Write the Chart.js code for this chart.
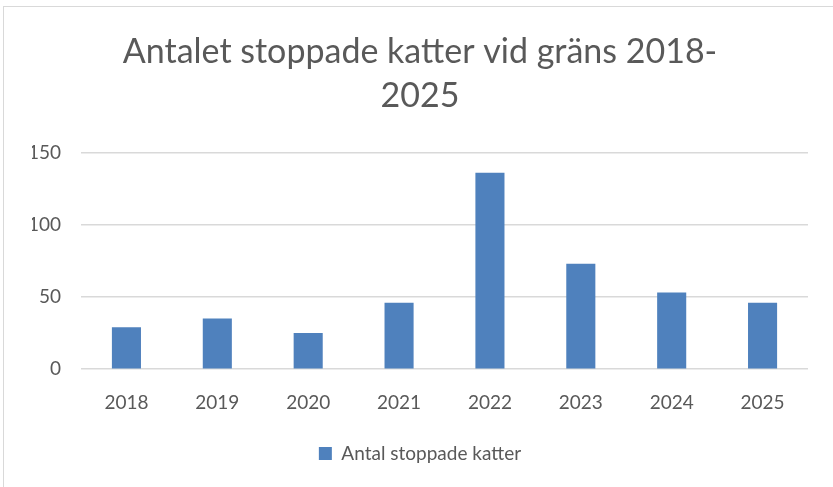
<!DOCTYPE html>
<html>
<head>
<meta charset="utf-8">
<script src="https://cdn.jsdelivr.net/npm/chart.js@4/dist/chart.umd.min.js"></script>
<style>
  html, body { margin: 0; padding: 0; background: #fff; }
  #wrap { position: relative; width: 833px; height: 487px; overflow: hidden; }
  #frame { position: absolute; left: 3px; top: 6px; width: 900px; height: 600px; border-left: 1px solid #d9d9d9; border-top: 1px solid #d9d9d9; }
  canvas { position: absolute; left: 0; top: 0; }
</style>
</head>
<body>
<div id="wrap">
  <div id="frame"></div>
  <canvas id="chart" width="833" height="487"></canvas>
</div>
<script>
  const years = ['2018', '2019', '2020', '2021', '2022', '2023', '2024', '2025'];
  const stoppedCats = [29, 35, 25, 46, 136, 73, 53, 46];
  const yTicks = [0, 50, 100, 150];

  const textColor = '#595959';
  const gridColor = '#d9d9d9';
  const fontFamily = 'Lato, "Open Sans", sans-serif';

  new Chart(document.getElementById('chart'), {
    type: 'bar',
    data: {
      labels: years,
      datasets: [
        {
          label: 'Antal stoppade katter',
          data: stoppedCats,
          backgroundColor: '#4f81bd',
          categoryPercentage: 1,
          barPercentage: 0.32
        }
      ]
    },
    options: {
      responsive: false,
      animation: false,
      layout: { padding: { left: 32, right: 25, top: 30, bottom: 14 } },
      scales: {
        x: {
          grid: { display: false },
          border: { display: false },
          ticks: { color: textColor, font: { family: fontFamily, size: 19 }, padding: 14 }
        },
        y: {
          min: 0,
          max: 150,
          afterBuildTicks: (axis) => {
            axis.ticks = yTicks.map((v) => ({ value: v }));
          },
          afterFit: (axis) => {
            axis.width = 49;
          },
          grid: { color: gridColor, lineWidth: 1.5, drawTicks: false },
          border: { display: false },
          ticks: { color: textColor, font: { family: fontFamily, size: 19 }, padding: 20 }
        }
      },
      plugins: {
        title: {
          display: true,
          text: ['Antalet stoppade katter vid gräns 2018-', '2025'],
          color: textColor,
          font: { family: fontFamily, size: 34, weight: 'normal', lineHeight: 1.3 },
          padding: { top: 0, bottom: 34 }
        },
        legend: {
          position: 'bottom',
          labels: {
            color: textColor,
            font: { family: fontFamily, size: 19 },
            boxWidth: 13,
            boxHeight: 13,
            padding: 16
          }
        },
        tooltip: { enabled: false }
      }
    }
  });
</script>
</body>
</html>
